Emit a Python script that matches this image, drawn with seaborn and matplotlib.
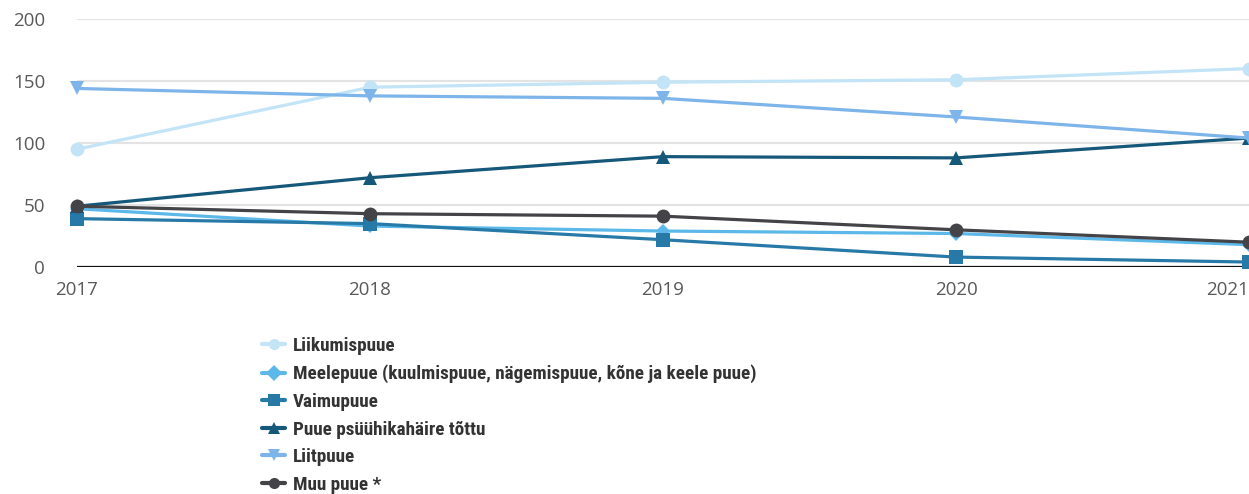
import matplotlib
matplotlib.use("Agg")
import matplotlib.pyplot as plt
import seaborn as sns
import pandas as pd

YEARS = [2017, 2018, 2019, 2020, 2021]
SERIES = [
    "Liikumispuue",
    "Meelepuue (kuulmispuue, nägemispuue, kõne ja keele puue)",
    "Vaimupuue",
    "Puue psüühikahäire tõttu",
    "Liitpuue",
    "Muu puue *",
]
LIIKUMIS = [95, 145, 149, 151, 160]
MEELE = [47, 33, 29, 27, 18]
VAIMU = [39, 35, 22, 8, 4]
PSYYHIKA = [49, 72, 89, 88, 104]
LIIT = [144, 138, 136, 121, 104]
MUU = [49, 43, 41, 30, 20]

COLORS = ["#c2e4f6", "#5cb8e9", "#2779a7", "#15587a", "#7db4ea", "#444448"]
MARKERS = ["o", "D", "s", "^", "v", "o"]

values = [LIIKUMIS, MEELE, VAIMU, PSYYHIKA, LIIT, MUU]
df = pd.DataFrame(
    [(y, s, v) for s, vals in zip(SERIES, values) for y, v in zip(YEARS, vals)],
    columns=["aasta", "puue", "arv"],
)

sns.set_style("white")
plt.rcParams["font.family"] = ["Open Sans", "DejaVu Sans"]

fig = plt.figure(figsize=(12.49, 4.94), dpi=100)
ax = fig.add_axes([77 / 1249, 1 - 267 / 494, 1 - 77 / 1249, 248 / 494])

sns.lineplot(
    data=df, x="aasta", y="arv", hue="puue", style="puue",
    hue_order=SERIES, style_order=SERIES,
    palette=dict(zip(SERIES, COLORS)),
    markers=dict(zip(SERIES, MARKERS)), dashes=False,
    linewidth=2.3, markersize=10, markeredgewidth=0,
    ax=ax, clip_on=False, legend=True,
)
# diamond marker a bit smaller
for line in ax.lines:
    if line.get_marker() == "D":
        line.set_markersize(7)

ax.set_xlim(2017, 2021)
ax.set_ylim(0, 200)
ax.set_yticks([0, 50, 100, 150, 200])
ax.set_xticks(YEARS)
ax.set_xlabel("")
ax.set_ylabel("")
ax.grid(axis="y", color="#e3e3e3", linewidth=1.5)
ax.set_axisbelow(True)
for side in ["left", "right", "top", "bottom"]:
    ax.spines[side].set_visible(False)
ax.axhline(0, color="#111111", linewidth=1.6, zorder=1)
ax.tick_params(axis="both", length=0, labelsize=13.5, labelcolor="#595959")
ax.tick_params(axis="y", pad=23)
ax.tick_params(axis="x", pad=10)
for lab in ax.get_yticklabels():
    lab.set_horizontalalignment("right")
# last year label pushed inside the figure, as in the original
ax.get_xticklabels()[-1].set_horizontalalignment("right")

handles, labels = ax.get_legend_handles_labels()
ax.legend_.remove()
leg = fig.legend(
    handles, labels, loc="upper left", bbox_to_anchor=(262 / 1249, 1 - 337 / 494),
    frameon=False, handlelength=1.2, handletextpad=0.4, labelspacing=0.5,
    borderpad=0, borderaxespad=0,
    prop={"family": ["Roboto Condensed", "Lato", "DejaVu Sans"], "size": 13.8, "weight": "bold"},
)
for t in leg.get_texts():
    t.set_color("#333333")
for h in leg.legend_handles:
    h.set_markersize(8)
    h.set_linewidth(3)

fig.savefig("out.png", dpi=100)
